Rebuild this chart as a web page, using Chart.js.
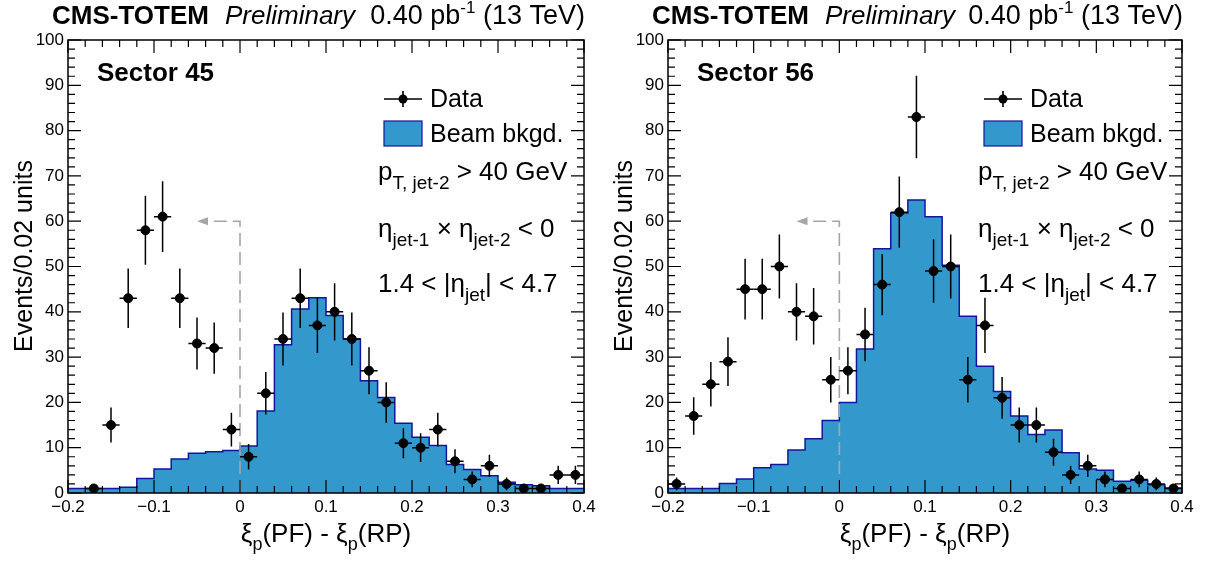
<!DOCTYPE html>
<html>
<head>
<meta charset="utf-8">
<script src="https://cdn.jsdelivr.net/npm/chart.js@4.4.0/dist/chart.umd.min.js"></script>
<style>
  html, body { margin: 0; padding: 0; background: #fff; }
  #wrap { position: relative; width: 1210px; height: 563px; overflow: hidden; }
  .panel { position: absolute; top: 0; height: 563px; }
</style>
</head>
<body>
<div id="wrap">
  <div class="panel" style="left:0;width:600px"><canvas id="left"></canvas></div>
  <div class="panel" style="left:600px;width:610px"><canvas id="right"></canvas></div>
</div>
<script>
// Bin centres (xi_p(PF) - xi_p(RP)), bin width 0.02
const binCenters = [-0.19, -0.17, -0.15, -0.13, -0.11, -0.09, -0.07, -0.05, -0.03, -0.01,
                    0.01, 0.03, 0.05, 0.07, 0.09, 0.11, 0.13, 0.15, 0.17, 0.19,
                    0.21, 0.23, 0.25, 0.27, 0.29, 0.31, 0.33, 0.35, 0.37, 0.39];
const halfBin = 0.01;

// Sector 45
const data45 = [0, 1, 15, 43, 58, 61, 43, 33, 32, 14,
                8, 22, 34, 43, 37, 40, 34, 27, 20, 11,
                10, 14, 7, 3, 6, 2, 1, 1, 4, 4];
const bkg45 = [1.0, 1.0, 1.0, 1.25, 3.2, 5.3, 7.5, 8.8, 9.1, 9.4,
               10.4, 18.1, 32.7, 40.6, 43.1, 39.2, 34.0, 24.8, 21.1, 15.4,
               12.3, 10.5, 6.3, 5.2, 3.8, 2.4, 1.8, 1.6, 1.0, 1.0];

// Sector 56
const data56 = [2, 17, 24, 29, 45, 45, 50, 40, 39, 25,
                27, 35, 46, 62, 83, 49, 50, 25, 37, 21,
                15, 15, 9, 4, 6, 3, 1, 3, 2, 1];
const bkg56 = [1.0, 1.0, 1.0, 2.1, 3.1, 5.6, 6.3, 9.5, 12.0, 16.0,
               20.0, 31.8, 53.9, 61.8, 64.7, 61.0, 50.3, 39.0, 28.0, 22.4,
               17.0, 12.9, 13.9, 8.9, 5.3, 5.0, 2.6, 2.8, 1.8, 1.1];

// Axis ticks
const xTicks = [-0.2, -0.1, 0, 0.1, 0.2, 0.3, 0.4];
const xTickLabels = ['\u22120.2', '\u22120.1', '0', '0.1', '0.2', '0.3', '0.4'];
const yTicks = [0, 10, 20, 30, 40, 50, 60, 70, 80, 90, 100];

// Cut arrow (x from 0 to -0.05 at 60 events)
const arrowX = [0, -0.05];
const arrowY = 60;

const FONT = '"Liberation Sans", Arial, Helvetica, sans-serif';
const FILL = '#3399cc';
const EDGE = '#1414a0';
const BLACK = '#000';

// Draw a run of text pieces (font, dy) from x; returns end x
function drawRich(ctx, x, y, parts, measureOnly) {
    let cx = x;
    parts.forEach(p => {
        ctx.font = p.font;
        if (!measureOnly) ctx.fillText(p.t, cx, y + (p.dy || 0));
        cx += ctx.measureText(p.t).width;
    });
    return cx;
}

function makeHist(values) {
    const pts = values.map((v, i) => ({ x: binCenters[i] - halfBin, y: v }));
    pts.push({ x: binCenters[binCenters.length - 1] + halfBin, y: values[values.length - 1] });
    return pts;
}

const rootStyle = {
    id: 'rootStyle',
    beforeDatasetDraw(chart, args) {
        // error bars underneath the data markers
        if (args.index !== 1) return;
        const { ctx, scales: { x, y } } = chart;
        const vals = chart.config.options.plugins.rootStyle.data;
        ctx.save();
        ctx.strokeStyle = BLACK;
        ctx.lineWidth = 1.5;
        vals.forEach((v, i) => {
            if (v <= 0) return;
            const e = Math.sqrt(v);
            const px = x.getPixelForValue(binCenters[i]);
            const py = y.getPixelForValue(v);
            ctx.beginPath();
            ctx.moveTo(px, y.getPixelForValue(v + e));
            ctx.lineTo(px, y.getPixelForValue(Math.max(0, v - e)));
            ctx.moveTo(x.getPixelForValue(binCenters[i] - halfBin), py);
            ctx.lineTo(x.getPixelForValue(binCenters[i] + halfBin), py);
            ctx.stroke();
        });
        ctx.restore();
    },
    afterDatasetDraw(chart, args) {
        // dashed cut arrow, drawn over the histogram
        if (args.index !== 0) return;
        const { ctx, scales: { x, y } } = chart;
        const x0 = x.getPixelForValue(arrowX[0]);
        const x1 = x.getPixelForValue(arrowX[1]);
        const yb = y.getPixelForValue(0);
        const ya = y.getPixelForValue(arrowY);
        ctx.save();
        ctx.strokeStyle = '#a6a6a6';
        ctx.fillStyle = '#a6a6a6';
        ctx.lineWidth = 1.6;
        ctx.setLineDash([13, 6]);
        ctx.beginPath();
        ctx.moveTo(x0, yb);
        ctx.lineTo(x0, ya);
        ctx.lineTo(x1 + 8, ya);
        ctx.stroke();
        ctx.setLineDash([]);
        ctx.beginPath();
        ctx.moveTo(x1, ya);
        ctx.lineTo(x1 + 11, ya - 4);
        ctx.lineTo(x1 + 11, ya + 4);
        ctx.closePath();
        ctx.fill();
        ctx.restore();
    },
    afterDraw(chart) {
        const { ctx, chartArea: a, scales: { x, y } } = chart;
        const opt = chart.config.options.plugins.rootStyle;
        ctx.save();
        // frame
        ctx.strokeStyle = BLACK;
        ctx.lineWidth = 1.5;
        ctx.strokeRect(a.left, a.top, a.right - a.left, a.bottom - a.top);
        // ticks on all four sides, pointing inwards
        ctx.lineWidth = 1.2;
        ctx.beginPath();
        for (let i = 0; i <= 30; i++) {
            const px = x.getPixelForValue(-0.2 + i * 0.02);
            const len = i % 5 === 0 ? 13 : 7;
            ctx.moveTo(px, a.bottom); ctx.lineTo(px, a.bottom - len);
            ctx.moveTo(px, a.top); ctx.lineTo(px, a.top + len);
        }
        for (let i = 0; i <= 50; i++) {
            const py = y.getPixelForValue(i * 2);
            const len = i % 5 === 0 ? 13 : 7;
            ctx.moveTo(a.left, py); ctx.lineTo(a.left + len, py);
            ctx.moveTo(a.right, py); ctx.lineTo(a.right - len, py);
        }
        ctx.stroke();

        ctx.fillStyle = BLACK;
        ctx.textBaseline = 'alphabetic';
        ctx.textAlign = 'left';
        const L = a.left;

        // header
        ctx.font = 'bold 26px ' + FONT;
        ctx.fillText('CMS-TOTEM', L - 16, 24);
        ctx.font = 'italic 26px ' + FONT;
        ctx.fillText('Preliminary', L + 157, 24);
        const lumi = [
            { t: '0.40 pb', font: '27px ' + FONT },
            { t: '-1', font: '17px ' + FONT, dy: -11 },
            { t: ' (13 TeV)', font: '27px ' + FONT }
        ];
        const lw = drawRich(ctx, 0, 0, lumi, true);
        drawRich(ctx, a.right + 1 - lw, 24, lumi);

        // sector label
        ctx.font = 'bold 26px ' + FONT;
        ctx.fillText(opt.sector, L + 29, 81);

        // legend
        const mx = L + 335;
        ctx.strokeStyle = BLACK;
        ctx.lineWidth = 1.6;
        ctx.beginPath();
        ctx.moveTo(L + 316, 99); ctx.lineTo(L + 354, 99);
        ctx.moveTo(mx, 91); ctx.lineTo(mx, 107);
        ctx.stroke();
        ctx.beginPath();
        ctx.arc(mx, 99, 4.5, 0, Math.PI * 2);
        ctx.fill();
        ctx.font = '25px ' + FONT;
        ctx.fillText('Data', L + 362, 107);
        ctx.fillStyle = FILL;
        ctx.fillRect(L + 316, 121, 38, 25);
        ctx.strokeStyle = EDGE;
        ctx.lineWidth = 1.2;
        ctx.strokeRect(L + 316, 121, 38, 25);
        ctx.fillStyle = BLACK;
        ctx.fillText('Beam bkgd.', L + 362, 142);

        // selection texts
        const big = '26px ' + FONT, sub = '19px ' + FONT;
        drawRich(ctx, L + 310, 180, [
            { t: 'p', font: big }, { t: 'T, jet-2', font: sub, dy: 9 }, { t: ' > 40 GeV', font: big }
        ]);
        drawRich(ctx, L + 310, 237, [
            { t: '\u03b7', font: big }, { t: 'jet-1', font: sub, dy: 9 },
            { t: ' \u00d7 ', font: big }, { t: '\u03b7', font: big }, { t: 'jet-2', font: sub, dy: 9 },
            { t: ' < 0', font: big }
        ]);
        drawRich(ctx, L + 310, 292, [
            { t: '1.4 < |\u03b7', font: big }, { t: 'jet', font: sub, dy: 9 }, { t: '| < 4.7', font: big }
        ]);

        // x axis title
        const xt = [
            { t: '\u03be', font: '26px ' + FONT }, { t: 'p', font: '18px ' + FONT, dy: 8 },
            { t: '(PF) - ', font: '26px ' + FONT },
            { t: '\u03be', font: '26px ' + FONT }, { t: 'p', font: '18px ' + FONT, dy: 8 },
            { t: '(RP)', font: '26px ' + FONT }
        ];
        const xw = drawRich(ctx, 0, 0, xt, true);
        drawRich(ctx, (a.left + a.right) / 2 - xw / 2, 542, xt);

        // y axis title
        ctx.save();
        ctx.translate(32, 256);
        ctx.rotate(-Math.PI / 2);
        ctx.textAlign = 'center';
        ctx.font = '25px ' + FONT;
        ctx.fillText('Events/0.02 units', 0, 0);
        ctx.restore();

        ctx.restore();
    }
};

function makeChart(id, sector, dataVals, bkgVals, padRight) {
    return new Chart(document.getElementById(id), {
        type: 'scatter',
        data: {
            datasets: [{
                type: 'line',
                label: 'Beam bkgd.',
                data: makeHist(bkgVals),
                stepped: 'before',
                fill: 'origin',
                backgroundColor: FILL,
                borderColor: EDGE,
                borderWidth: 1.5,
                pointRadius: 0,
                order: 2
            }, {
                type: 'scatter',
                label: 'Data',
                data: dataVals.map((v, i) => ({ x: binCenters[i], y: v })).filter(p => p.y > 0),
                backgroundColor: BLACK,
                borderColor: BLACK,
                pointRadius: 4.5,
                pointHoverRadius: 4.5,
                order: 1
            }]
        },
        options: {
            responsive: true,
            maintainAspectRatio: false,
            animation: false,
            events: [],
            layout: { padding: { top: 40, right: padRight, bottom: 0, left: 0 } },
            plugins: {
                legend: { display: false },
                tooltip: { enabled: false },
                rootStyle: { sector: sector, data: dataVals }
            },
            scales: {
                x: {
                    type: 'linear',
                    min: -0.2,
                    max: 0.4,
                    afterBuildTicks: s => { s.ticks = xTicks.map(v => ({ value: v })); },
                    afterFit: s => { s.height = 70; },
                    grid: { display: false, drawTicks: false },
                    border: { display: false },
                    ticks: {
                        padding: 4,
                        color: BLACK,
                        maxRotation: 0,
                        autoSkip: false,
                        font: { family: FONT, size: 17 },
                        callback: (v, i) => xTickLabels[i]
                    }
                },
                y: {
                    min: 0,
                    max: 100,
                    afterBuildTicks: s => { s.ticks = yTicks.map(v => ({ value: v })); },
                    afterFit: s => { s.width = 68; },
                    grid: { display: false, drawTicks: false },
                    border: { display: false },
                    ticks: {
                        padding: 4,
                        color: BLACK,
                        autoSkip: false,
                        font: { family: FONT, size: 17 }
                    }
                }
            }
        },
        plugins: [rootStyle]
    });
}

makeChart('left', 'Sector 45', data45, bkg45, 16);
makeChart('right', 'Sector 56', data56, bkg56, 28);
</script>
</body>
</html>
